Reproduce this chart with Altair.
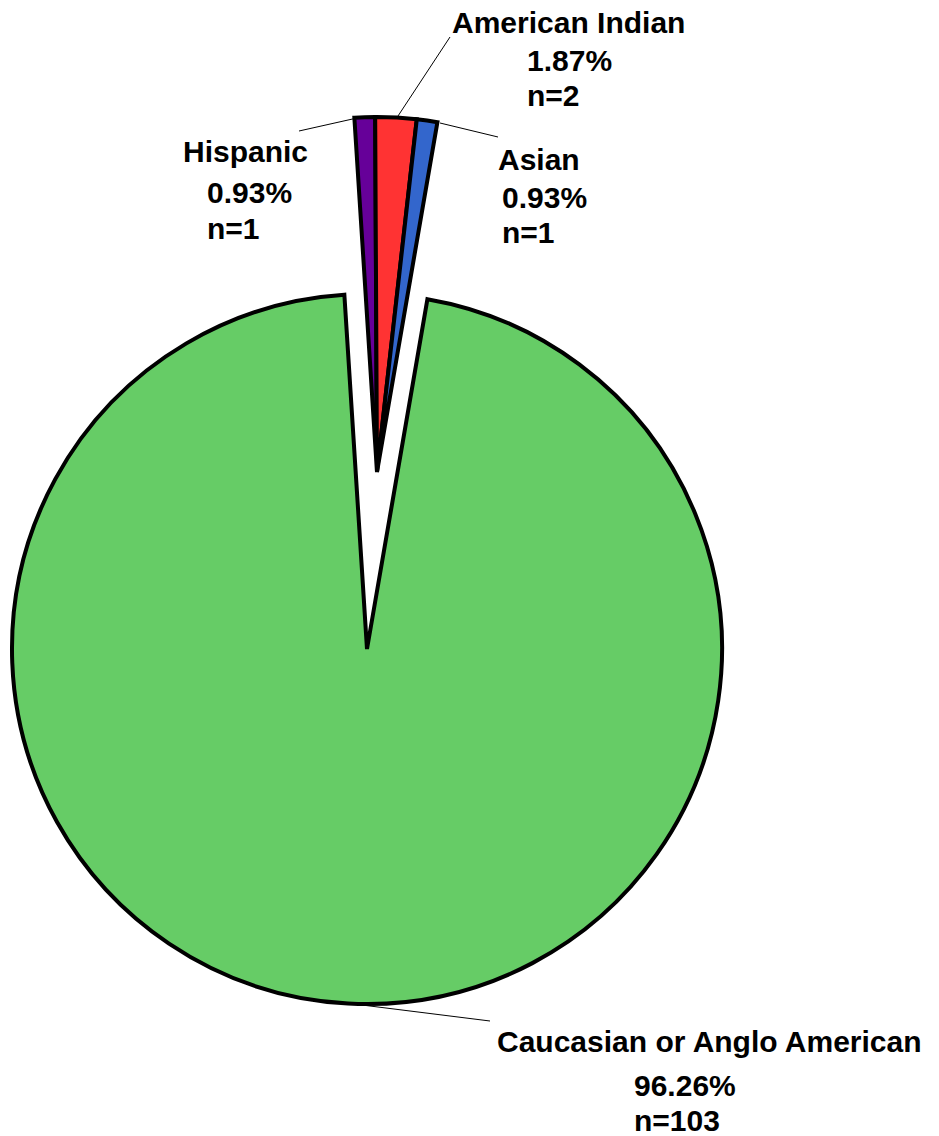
import math
import altair as alt
import pandas as pd

# ---- data ----
groups = ["Caucasian or Anglo American", "Hispanic", "American Indian", "Asian"]
counts = [103, 1, 2, 1]
percents = ["96.26%", "0.93%", "1.87%", "0.93%"]
colors = ["#66CC66", "#660099", "#FF3333", "#3366CC"]
exploded = [False, True, True, True]

df = pd.DataFrame({"group": groups, "n": counts, "pct": percents, "exploded": exploded})
df["end"] = df["n"].cumsum()
df["start"] = df["end"] - df["n"]
total = int(df["n"].sum())

# ---- layout (pixels) ----
W, H = 939, 1136
R = 355
main_center = (367, 649)
explode_center = (377, 472)
theta0 = math.radians(9.8)

label_text = [
    "Caucasian or Anglo American", "96.26%", "n=103",
    "Hispanic", "0.93%", "n=1",
    "American Indian", "1.87%", "n=2",
    "Asian", "0.93%", "n=1",
]
label_x = [497, 634, 634, 183, 207, 207, 452, 527, 527, 498, 502, 502]
label_y = [1052, 1096, 1131, 162, 203, 239, 33, 71, 106, 170, 208, 243]
labels = pd.DataFrame({"text": label_text, "x": label_x, "y": label_y})

leader = pd.DataFrame({
    "x": [362, 357, 398, 440],
    "y": [1005, 118, 116, 123],
    "x2": [490, 299, 450, 498],
    "y2": [1021, 131, 37, 137],
})

theta_scale = alt.Scale(domain=[0, total], range=[theta0, theta0 + 2 * math.pi])
color_scale = alt.Scale(domain=groups, range=colors)

base = alt.Chart(df)

def pie(filter_expr, center):
    return base.transform_filter(filter_expr).mark_arc(
        outerRadius=R, stroke="black", strokeWidth=4, strokeJoin="miter"
    ).encode(
        theta=alt.Theta("start:Q", scale=theta_scale),
        theta2="end:Q",
        color=alt.Color("group:N", scale=color_scale, legend=None),
        x=alt.value(center[0]),
        y=alt.value(center[1]),
    )

main = pie("!datum.exploded", main_center)
small = pie("datum.exploded", explode_center)

rules = alt.Chart(leader).mark_rule(color="black", strokeWidth=1).encode(
    x=alt.X("x:Q", scale=None),
    y=alt.Y("y:Q", scale=None),
    x2="x2:Q",
    y2="y2:Q",
)

text = alt.Chart(labels).mark_text(
    align="left", baseline="alphabetic", font="Liberation Sans",
    fontWeight="bold", fontSize=30, color="black"
).encode(
    x=alt.X("x:Q", scale=None),
    y=alt.Y("y:Q", scale=None),
    text="text:N",
)

chart = alt.layer(main, small, rules, text).properties(
    width=W, height=H, padding=0, autosize="none"
).configure_view(stroke=None)

chart.save("out.html", embed_options={"renderer": "svg", "actions": False})
